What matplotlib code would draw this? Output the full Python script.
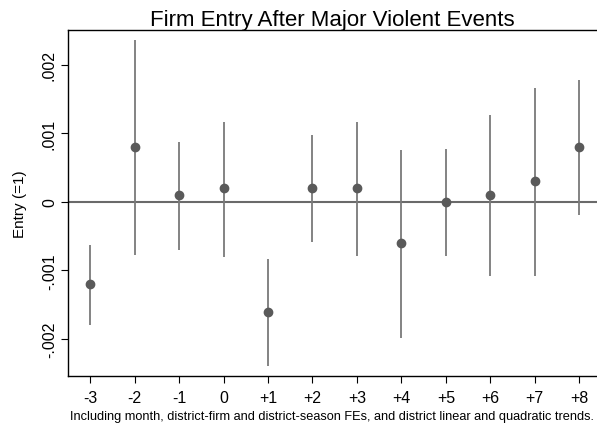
import numpy as np
from matplotlib import pyplot as plt

plt.rcParams['font.family'] = ['Liberation Sans', 'DejaVu Sans']

# event time relative to major violent event
periods = [-3, -2, -1, 0, 1, 2, 3, 4, 5, 6, 7, 8]
period_labels = ['-3', '-2', '-1', '0', '+1', '+2', '+3', '+4', '+5', '+6', '+7', '+8']
# point estimates and confidence bounds
coef = [-0.0012, 0.0008, 0.0001, 0.0002, -0.0016, 0.0002, 0.0002, -0.0006, 0.0, 0.0001, 0.0003, 0.0008]
ci_low = [-0.0018, -0.00078, -0.0007, -0.0008, -0.0024, -0.00059, -0.00079, -0.00199, -0.00079, -0.00108, -0.00108, -0.00019]
ci_high = [-0.00063, 0.00237, 0.00087, 0.00117, -0.00083, 0.00098, 0.00117, 0.00076, 0.00077, 0.00127, 0.00166, 0.00178]

fig = plt.figure(figsize=(5.97, 4.27), dpi=100)
ax = fig.add_axes([68 / 597, 1 - 377 / 427, 1 - 68 / 597, (377 - 31) / 427])

ax.axhline(0, color='#6a6a6a', lw=1.5, zorder=1)
ax.vlines(periods, ci_low, ci_high, color='#7a7a7a', lw=1.3, zorder=2)
ax.plot(periods, coef, 'o', color='#5a5a5a', ms=6, zorder=3)

ax.set_xlim(-3.5, 8.4)
ax.set_ylim(-0.00254, 0.00251)
ax.set_xticks(periods)
ax.set_xticklabels(period_labels, fontsize=11.5)
yt = [-0.002, -0.001, 0, 0.001, 0.002]
ax.set_yticks(yt)
ax.set_yticklabels(['-.002', '-.001', '0', '.001', '.002'], fontsize=11.5, rotation=90, va='center')
ax.spines['right'].set_visible(False)
for s in ['left', 'top', 'bottom']:
    ax.spines[s].set_linewidth(1.0)
ax.tick_params(length=5, width=0.8)
ax.tick_params(axis='x', pad=5)
ax.tick_params(axis='y', pad=3)

ax.set_title('Firm Entry After Major Violent Events', fontsize=16, pad=3)
ax.set_ylabel('Entry (=1)', fontsize=11, labelpad=11)
ax.set_xlabel('Including month, district-firm and district-season FEs, and district linear and quadratic trends.',
              fontsize=9.2, labelpad=4)

plt.savefig('out.png', dpi=100)
